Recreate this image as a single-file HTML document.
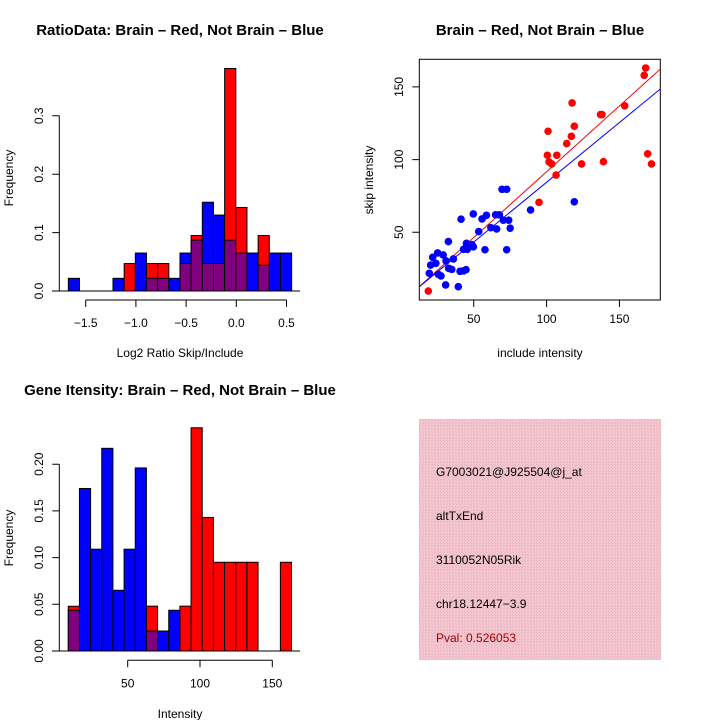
<!DOCTYPE html>
<html><head><meta charset="utf-8"><style>
html,body{margin:0;padding:0;background:#fff;}
svg{display:block;font-family:"Liberation Sans",Arial,sans-serif;}
</style></head><body>
<svg id="s" width="720" height="720" viewBox="0 0 720 720">
<defs>
<pattern id="hatch" width="3" height="3" patternUnits="userSpaceOnUse">
<rect width="3" height="3" fill="#f3c6d0"/>
<rect width="1" height="1" fill="#e9b0be"/>
<rect x="2" y="2" width="1" height="1" fill="#e9b0be"/>
</pattern>
<clipPath id="scClip"><rect x="419.3" y="59.3" width="241" height="240.7"/></clipPath>
</defs>
<rect width="720" height="720" fill="#fff"/>
<g>
<rect x="419" y="419" width="242" height="241" fill="url(#hatch)"/>
<text x="436" y="476" font-size="12">G7003021@J925504@j_at</text>
<text x="436" y="520" font-size="12">altTxEnd</text>
<text x="436" y="564" font-size="12">3110052N05Rik</text>
<text x="436" y="608" font-size="12">chr18.12447−3.9</text>
<text x="436" y="642" font-size="12" fill="#aa0000">Pval: 0.526053</text>
</g>
</svg>
<script>
// Ratio histogram
const ratioBinStart = -1.673, ratioBinWidth = 0.1112;
const ratioRed  = [0,0,0,0,0,0.047,0,0.047,0.047,0,0.047,0.095,0.047,0.047,0.381,0.143,0,0.095,0,0];
const ratioBlue = [0.0217,0,0,0,0.0217,0,0.065,0.0217,0.0217,0.0217,0.065,0.087,0.152,0.13,0.087,0.065,0.065,0.044,0.065,0.065];
const ratioXTicks = [-1.5,-1.0,-0.5,0.0,0.5];
const ratioXLabels = ["−1.5","−1.0","−0.5","0.0","0.5"];
const ratioYTicks = [0,0.1,0.2,0.3];
const ratioYLabels = ["0.0","0.1","0.2","0.3"];
// Intensity histogram
const intBinStart = 8.9, intBinWidth = 7.72;
const intRed  = [0.0479,0,0,0,0,0,0,0.048,0,0,0.048,0.239,0.143,0.095,0.095,0.095,0.095,0,0,0.095];
const intBlue = [0.0436,0.174,0.109,0.217,0.065,0.109,0.196,0.0214,0.0214,0.0436,0,0,0,0,0,0,0,0,0,0];
const intXTicks = [50,100,150];
const intXLabels = ["50","100","150"];
const intYTicks = [0,0.05,0.1,0.15,0.2];
const intYLabels = ["0.00","0.05","0.10","0.15","0.20"];
// Scatter
const redInclude = [18.8,168,167,117.5,137,138,153.6,119,117,113.8,101,100.5,107,101.7,103.5,124,139,169.4,172,106.5,94.8];
const redSkip    = [9.6,163,158,139,131,131,137,123,116,111,119.5,103,103,98.4,97,97,98.6,104,97,89.4,70.6];
const blueInclude = [119,89,69.4,72.6,49.7,58.7,55.7,65,67.6,41.3,70.3,74,75,53.4,61.7,65.7,57.7,72.6,32.6,45,48.8,49.7,43,45.6,25.2,29,21.8,36,31,24,20.4,32.8,34.9,40.6,42.9,44.7,19.5,25.7,27.5,30.7,39.4];
const blueSkip    = [71,65.4,79.6,79.6,62.6,61.7,59.2,62,62,59,58.3,58.3,52.8,50.5,53.2,52.3,38,38,43.6,42.4,41.5,40,38.3,38.3,35.8,34.4,32.8,31.7,30.3,28.7,27.5,25.2,24.5,23.2,23.4,24.3,21.8,21.1,20,13.8,12.6];
const redFit = [1.15,0.905];   // intercept, slope
const blueFit = [2.2,0.822];
const scXTicks = [50,100,150], scYTicks = [50,100,150];
const scXLabels = ["50","100","150"], scYLabels = ["50","100","150"];

const NS="http://www.w3.org/2000/svg", svg=document.getElementById('s');
function mk(tag,attrs,parent,txt){const e=document.createElementNS(NS,tag);for(const k in attrs)e.setAttribute(k,attrs[k]);if(txt!==undefined)e.textContent=txt;(parent||svg).appendChild(e);return e;}
function grp(name){const g=mk('g',{});


return g;}
function txt(g,x,y,s,name,opts){const t=mk('text',Object.assign({x:x,y:y,'font-size':12,'text-anchor':'middle'},opts||{}),g,s);


return t;}

function hist(cfg){
  const g=grp(cfg.name);
  const sx=v=>cfg.x0+(v-cfg.xv0)*cfg.kx, sy=v=>cfg.y0-v*cfg.ky;
  const bl=mk('line',{x1:52,x2:300,y1:cfg.y0,y2:cfg.y0,stroke:'#000','stroke-width':1},g);
  
  
  cfg.red.forEach((r,i)=>{
    const b=cfg.blue[i];
    const xa=sx(cfg.bs+i*cfg.bw), xb=sx(cfg.bs+(i+1)*cfg.bw);
    const mx=Math.max(r,b), mn=Math.min(r,b);
    if(mx<=0)return;
    const big=mk('rect',{x:xa,y:sy(mx),width:xb-xa,height:sy(0)-sy(mx),fill:r>=b?'#ff0000':'#0000ff',stroke:'#000','stroke-width':1},g);
    
    
    if(mn>0){
      const p=mk('rect',{x:xa,y:sy(mn),width:xb-xa,height:sy(0)-sy(mn),fill:'#800080',stroke:'#000','stroke-width':1},g);
      
      
    }
  });
  const xa=mk('path',{d:'',fill:'none',stroke:'#000','stroke-width':1},g);
  
  
  let d='M'+sx(cfg.xt[0])+' '+cfg.ax+'H'+sx(cfg.xt[cfg.xt.length-1]);
  cfg.xt.forEach((t,i)=>{d+='M'+sx(t)+' '+cfg.ax+'v7';txt(g,sx(t),cfg.ax+27,cfg.xl[i],'x-tick-label');});
  xa.setAttribute('d',d);
  const ya=mk('path',{d:'',fill:'none',stroke:'#000','stroke-width':1},g);
  
  
  let e='M59.3 '+sy(cfg.yt[0])+'V'+sy(cfg.yt[cfg.yt.length-1]);
  cfg.yt.forEach((t,i)=>{e+='M59.3 '+sy(t)+'h-7';txt(g,0,0,cfg.yl[i],'y-tick-label',{transform:'translate(43,'+sy(t)+') rotate(-90)'});});
  ya.setAttribute('d',e);
  txt(g,180,cfg.ty,cfg.title,'chart-title',{'font-weight':'bold','font-size':15});
  txt(g,180,cfg.xly,cfg.xlab,'x-axis-title');
  txt(g,0,0,'Frequency','y-axis-title',{transform:'translate(13,'+cfg.yly+') rotate(-90)'});
}
hist({name:'ratio-histogram',red:ratioRed,blue:ratioBlue,bs:ratioBinStart,bw:ratioBinWidth,x0:236.3,xv0:0,kx:100.4,y0:291,ky:584,ax:300,
  xt:ratioXTicks,xl:ratioXLabels,yt:ratioYTicks,yl:ratioYLabels,title:'RatioData: Brain – Red, Not Brain – Blue',ty:35,xlab:'Log2 Ratio Skip/Include',xly:357,yly:178});
hist({name:'intensity-histogram',red:intRed,blue:intBlue,bs:intBinStart,bw:intBinWidth,x0:127.7,xv0:50,kx:1.446,y0:651,ky:934,ax:660.3,
  xt:intXTicks,xl:intXLabels,yt:intYTicks,yl:intYLabels,title:'Gene Itensity: Brain – Red, Not Brain – Blue',ty:395,xlab:'Intensity',xly:718,yly:538});

(function(){
  const g=grp('scatter-plot');
  const sx=v=>400.9+v*1.457, sy=v=>305-v*1.454;
  const box=mk('rect',{x:419.3,y:59.3,width:241,height:240.7,fill:'none',stroke:'#000','stroke-width':1},g);
  
  
  const lg=mk('g',{'clip-path':'url(#scClip)'},g);
  [[redFit,'#ff0000','red-fit-line'],[blueFit,'#0000ff','blue-fit-line']].forEach(([f,c,n])=>{
    const l=mk('line',{x1:sx(0),y1:sy(f[0]),x2:sx(200),y2:sy(f[0]+f[1]*200),stroke:c,'stroke-width':1},lg);
    
    
  });
  redInclude.forEach((x,i)=>{const p=mk('circle',{cx:sx(x),cy:sy(redSkip[i]),r:3.8,fill:'#ff0000'},g);
    
    });
  blueInclude.forEach((x,i)=>{const p=mk('circle',{cx:sx(x),cy:sy(blueSkip[i]),r:3.8,fill:'#0000ff'},g);
    
    });
  const ax=mk('path',{d:'',fill:'none',stroke:'#000','stroke-width':1},g);
  
  
  let d='';
  scXTicks.forEach((t,i)=>{d+='M'+sx(t)+' 300v7';txt(g,sx(t),323,scXLabels[i],'x-tick-label');});
  scYTicks.forEach((t,i)=>{d+='M419.3 '+sy(t)+'h-7';txt(g,0,0,scYLabels[i],'y-tick-label',{transform:'translate(403,'+sy(t)+') rotate(-90)'});});
  ax.setAttribute('d',d);
  txt(g,540,35,'Brain – Red, Not Brain – Blue','chart-title',{'font-weight':'bold','font-size':15});
  txt(g,540,357,'include intensity','x-axis-title');
  txt(g,0,0,'skip intensity','y-axis-title',{transform:'translate(373,180) rotate(-90)'});
})();
</script>
</body></html>
